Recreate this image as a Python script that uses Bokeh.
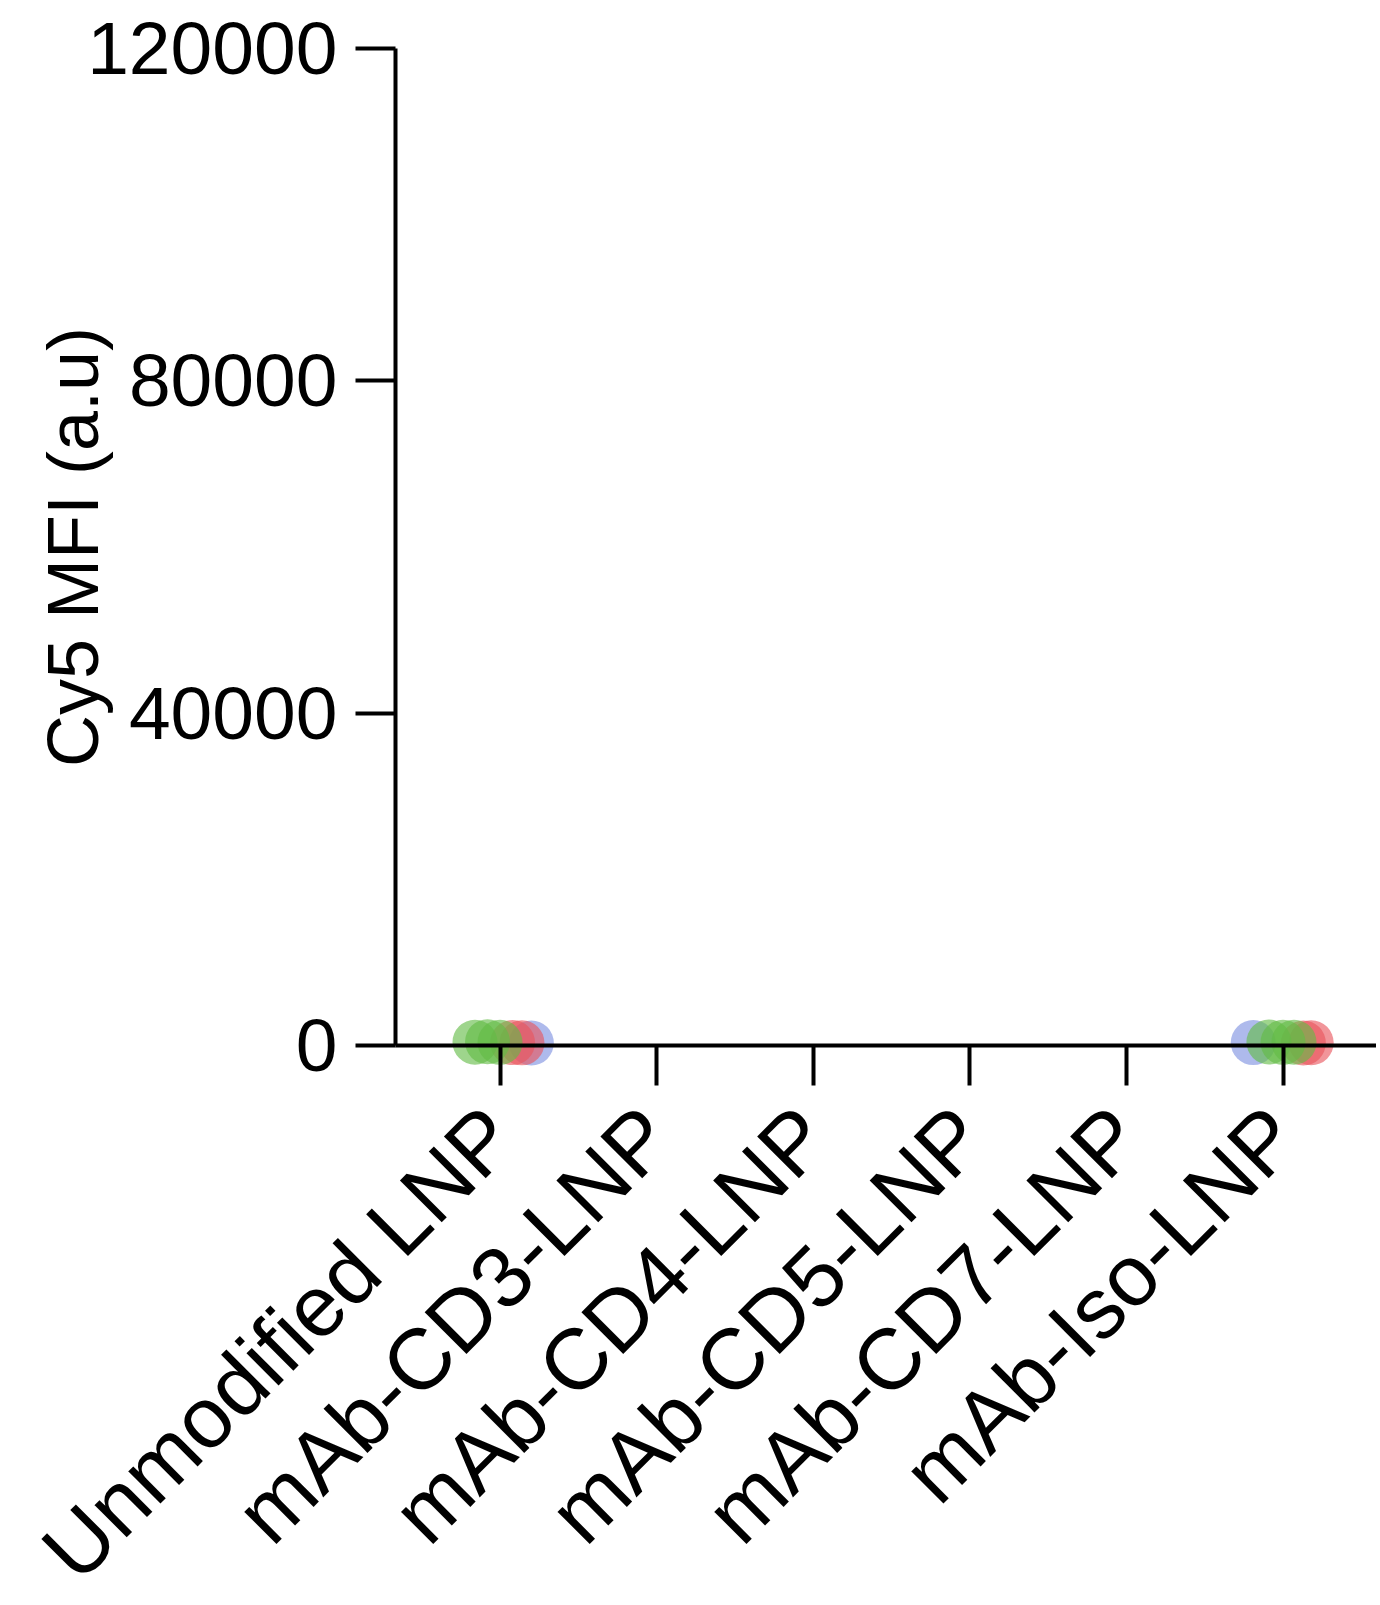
import math
from bokeh.plotting import figure
from bokeh.models import Range1d, FixedTicker, ColumnDataSource, NumeralTickFormatter, Label
from bokeh.embed import file_html
from bokeh.resources import INLINE

# ---- data ----
categories = ["Unmodified LNP", "mAb-CD3-LNP", "mAb-CD4-LNP",
              "mAb-CD5-LNP", "mAb-CD7-LNP", "mAb-Iso-LNP"]
y_ticks = [0, 40000, 80000, 120000]
y_label = "Cy5 MFI (a.u)"
# replicate MFI values per category (only Unmodified and Iso are visible)
blue_values = [[300], [], [], [], [], [350]]
green_values = [[400, 450, 380], [], [], [], [], [420, 380, 400]]
red_values = [[350, 320], [], [], [], [], [300, 330]]

# ---- layout (horizontal spread of replicates inside a category) ----
spread = {
    "blue": [[0.20], [], [], [], [], [-0.19]],
    "green": [[-0.16, -0.08, 0.0], [], [], [], [], [-0.09, 0.0, 0.07]],
    "red": [[0.08, 0.14], [], [], [], [], [0.13, 0.18]],
}
colors = {"blue": "#7d8fe0", "green": "#62bb46", "red": "#e8545c"}
series = {"blue": blue_values, "green": green_values, "red": red_values}

FONT = "Liberation Sans"
Y_AXIS_X = 0.332          # where the y axis sits along x
Y_TITLE_X = -1.73          # where the y title sits along x
X_END = 6.597

p = figure(width=1376, height=1597, output_backend="svg", toolbar_location=None,
           x_range=Range1d(-2.19, X_END), y_range=Range1d(-66439, 125777),
           min_border_left=0, min_border_right=0, min_border_top=0,
           min_border_bottom=0)
p.outline_line_color = None
p.grid.visible = False
p.background_fill_color = "white"
p.border_fill_color = "white"

for name in ["blue", "red", "green"]:
    xs, ys = [], []
    for i, vals in enumerate(series[name]):
        for j, v in enumerate(vals):
            xs.append(i + 1 + spread[name][i][j])
            ys.append(v)
    src = ColumnDataSource(dict(x=xs, y=ys))
    p.scatter("x", "y", source=src, size=45, fill_color=colors[name],
              fill_alpha=0.62, line_color=None)

# x axis
xa = p.xaxis[0]
xa.ticker = FixedTicker(ticks=list(range(1, len(categories) + 1)))
xa.major_label_overrides = {i + 1: c for i, c in enumerate(categories)}
xa.fixed_location = 0
xa.bounds = (Y_AXIS_X, X_END)
xa.major_label_orientation = math.pi / 4
xa.major_label_text_font = FONT
xa.major_label_text_font_size = "86px"
xa.major_label_text_color = "black"
xa.major_label_standoff = 36
xa.axis_line_width = 4
xa.axis_line_color = "black"
xa.major_tick_line_width = 4
xa.major_tick_line_color = "black"
xa.major_tick_out = 40
xa.major_tick_in = 0
xa.minor_tick_line_color = None

# y axis
ya = p.yaxis[0]
ya.ticker = FixedTicker(ticks=y_ticks)
ya.formatter = NumeralTickFormatter(format="0")
ya.fixed_location = Y_AXIS_X
ya.bounds = (0, 120000)
ya.major_label_text_font = FONT
ya.major_label_text_font_size = "75px"
ya.major_label_text_color = "black"
ya.major_label_standoff = 18
ya.axis_line_width = 4
ya.axis_line_color = "black"
ya.major_tick_line_width = 4
ya.major_tick_line_color = "black"
ya.major_tick_out = 40
ya.major_tick_in = 0
ya.minor_tick_line_color = None

title = Label(x=Y_TITLE_X, y=(y_ticks[0] + y_ticks[-1]) / 2, text=y_label,
              angle=math.pi / 2, text_align="center", text_baseline="middle",
              text_font=FONT, text_font_size="72px", text_color="black")
p.add_layout(title)

open("out.html", "w").write(file_html(p, INLINE))
